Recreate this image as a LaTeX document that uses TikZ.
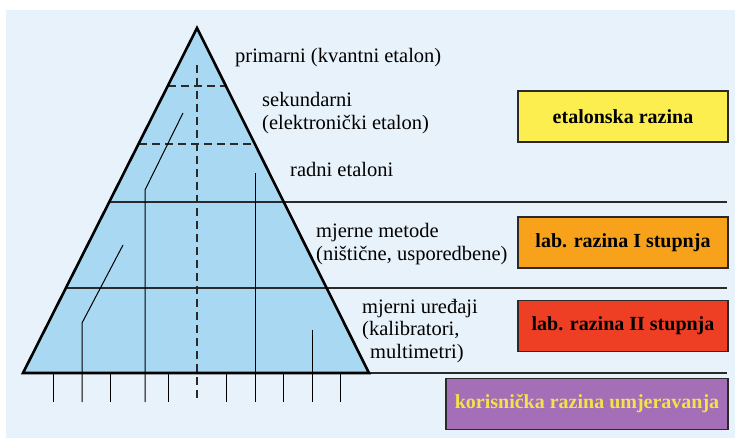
\documentclass[tikz,border=0pt]{standalone}
\usepackage{fontspec}
\setmainfont{Liberation Serif}
\definecolor{bgblue}{HTML}{E8F2FA}
\definecolor{pyr}{HTML}{A8D8F2}
\definecolor{ylw}{HTML}{FCEE4F}
\definecolor{org}{HTML}{F8A21C}
\definecolor{rd}{HTML}{EE3E24}
\definecolor{prp}{HTML}{A56FB8}
\definecolor{ytxt}{HTML}{F4E24A}
\definecolor{ink}{HTML}{2A2A2A}
\begin{document}
\begin{tikzpicture}[x=1pt,y=-1pt,
  lbl/.style={font=\fontsize{20.5}{22.5}\selectfont, align=left, inner sep=0pt, anchor=west},
  lvlbox/.style={draw=ink, line width=1.2pt, minimum width=210pt, minimum height=51pt, inner sep=0pt,
    font=\fontsize{20}{22}\selectfont\bfseries},
  rule/.style={draw=ink, line width=1.1pt},
  dashline/.style={draw=ink, line width=1.1pt, dash pattern=on 8pt off 5pt},
  thin/.style={draw=black, line width=1pt}]
\useasboundingbox (0,0) rectangle (735,438);
\fill[white] (0,0) rectangle (735,438);
\fill[bgblue] (6,10) rectangle (735,438);
% pyramid
\coordinate (apex) at (197,28);
\coordinate (bl) at (23,373);
\coordinate (br) at (369,373);
\fill[pyr] (apex) -- (bl) -- (br) -- cycle;
% dashed levels
\draw[dashline] (168,86) -- (226,86);
\draw[dashline] (139,144) -- (255,144);
% solid levels
\draw[rule] (109,202) -- (727,202);
\draw[rule] (66,288) -- (727,288);
\draw[rule] (369,373) -- (727,373);
% vertical dashed axis
\draw[dashline] (197,65) -- (197,402);
% internal lines
\draw[thin] (183,113) -- (145,190) -- (145,402);
\draw[thin] (255,173) -- (255,402);
\draw[thin] (123,245) -- (82,323) -- (82,402);
\draw[thin] (312,330) -- (312,402);
\foreach \x in {53,110,168,226,283,340} \draw[thin] (\x,373) -- (\x,402);
% outline
\draw[black, line width=2.6pt, line join=miter] (apex) -- (bl) -- (br) -- cycle;
% labels
\node[lbl] (l1) at (235,58) {primarni (kvantni etalon)};
\node[lbl] (l2) at (262,113) {sekundarni\\(elektronički etalon)};
\node[lbl] (l3) at (290,169) {radni etaloni};
\node[lbl] (l4) at (316,244) {mjerne metode\\(ništične, usporedbene)};
\node[lbl] (l5) at (362,331) {mjerni uređaji\\(kalibratori,\\\hspace*{8pt}multimetri)};
% level boxes
\node[lvlbox, fill=ylw] (b1) at (623,116.5) {etalonska razina};
\node[lvlbox, fill=org] (b2) at (623,242.5) {lab. razina I stupnja};
\node[lvlbox, fill=rd] (b3) at (623,326) {lab. razina II stupnja};
\node[lvlbox, fill=prp, minimum width=282pt, text=ytxt] (b4) at (587,404) {korisnička razina umjeravanja};
\end{tikzpicture}
\end{document}
